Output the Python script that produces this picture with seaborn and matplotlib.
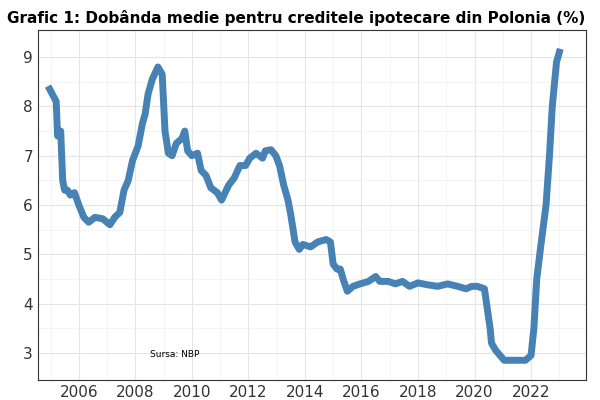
import matplotlib
matplotlib.use("Agg")
import matplotlib.pyplot as plt
import seaborn as sns
import pandas as pd

years = [2004.97, 2005.2, 2005.25, 2005.36, 2005.43, 2005.5, 2005.6, 2005.7, 2005.85,
         2006.0, 2006.18, 2006.35, 2006.57, 2006.85, 2007.1, 2007.27, 2007.45, 2007.6,
         2007.75, 2007.9, 2008.1, 2008.25, 2008.35, 2008.45, 2008.6, 2008.8, 2008.95,
         2009.05, 2009.17, 2009.3, 2009.45, 2009.65, 2009.75, 2009.85, 2010.0, 2010.2,
         2010.33, 2010.5, 2010.67, 2010.9, 2011.05, 2011.3, 2011.5, 2011.7, 2011.9,
         2012.05, 2012.27, 2012.5, 2012.6, 2012.8, 2012.97, 2013.1, 2013.25, 2013.4,
         2013.5, 2013.65, 2013.8, 2013.93, 2014.2, 2014.45, 2014.75, 2014.9, 2015.0,
         2015.13, 2015.25, 2015.35, 2015.5, 2015.7, 2015.95, 2016.25, 2016.5, 2016.65,
         2016.95, 2017.2, 2017.45, 2017.7, 2018.0, 2018.35, 2018.7, 2019.05, 2019.4,
         2019.7, 2019.9, 2020.1, 2020.35, 2020.45, 2020.55, 2020.6, 2020.75, 2020.9,
         2021.05, 2021.25, 2021.6, 2021.8, 2022.0, 2022.1, 2022.2, 2022.35, 2022.53,
         2022.65, 2022.75, 2022.9, 2023.0]
rates = [8.35, 8.1, 7.4, 7.5, 6.5, 6.3, 6.3, 6.2, 6.25,
         6.0, 5.75, 5.65, 5.75, 5.72, 5.6, 5.75, 5.85, 6.3,
         6.5, 6.9, 7.2, 7.65, 7.85, 8.25, 8.55, 8.8, 8.65,
         7.5, 7.05, 7.0, 7.25, 7.35, 7.5, 7.1, 7.0, 7.05,
         6.7, 6.6, 6.35, 6.25, 6.1, 6.4, 6.55, 6.8, 6.8,
         6.95, 7.05, 6.95, 7.1, 7.12, 7.0, 6.8, 6.4, 6.1,
         5.8, 5.25, 5.1, 5.2, 5.15, 5.25, 5.3, 5.25, 4.8,
         4.7, 4.7, 4.5, 4.25, 4.35, 4.4, 4.45, 4.55, 4.45,
         4.45, 4.4, 4.45, 4.35, 4.42, 4.38, 4.35, 4.4, 4.35,
         4.3, 4.35, 4.35, 4.3, 3.9, 3.5, 3.2, 3.05, 2.95,
         2.85, 2.85, 2.85, 2.85, 2.95, 3.5, 4.5, 5.2, 6.0,
         7.0, 8.0, 8.9, 9.1]

df = pd.DataFrame({"year": years, "rate": rates})

fig, ax = plt.subplots(figsize=(6, 4), dpi=100)
sns.lineplot(data=df, x="year", y="rate", ax=ax, color="#4682B4", linewidth=5)

ax.set_xlim(2004.55, 2023.95)
ax.set_ylim(2.45, 9.55)
ax.set_xticks([2006, 2008, 2010, 2012, 2014, 2016, 2018, 2020, 2022])
ax.set_yticks([3, 4, 5, 6, 7, 8, 9])
ax.set_xticks([2005, 2007, 2009, 2011, 2013, 2015, 2017, 2019, 2021, 2023], minor=True)
ax.set_yticks([3.5, 4.5, 5.5, 6.5, 7.5, 8.5], minor=True)
ax.grid(which="major", color="#e5e5e5", linewidth=0.8)
ax.grid(which="minor", color="#f0f0f0", linewidth=0.5)
ax.tick_params(which="both", length=0, labelsize=11, colors="#333333")
ax.set_xlabel("")
ax.set_ylabel("")
for s in ax.spines.values():
    s.set_color("#333333")
    s.set_linewidth(0.8)

ax.text(2009.4, 2.97, "Sursa: NBP", fontsize=6.5, ha="center", va="center")
fig.suptitle("Grafic 1: Dobânda medie pentru creditele ipotecare din Polonia (%)",
             x=0.012, y=0.975, ha="left", fontsize=11, fontweight="bold")
plt.subplots_adjust(left=0.063, right=0.977, top=0.925, bottom=0.05)
plt.savefig("out.png")
plt.close()
